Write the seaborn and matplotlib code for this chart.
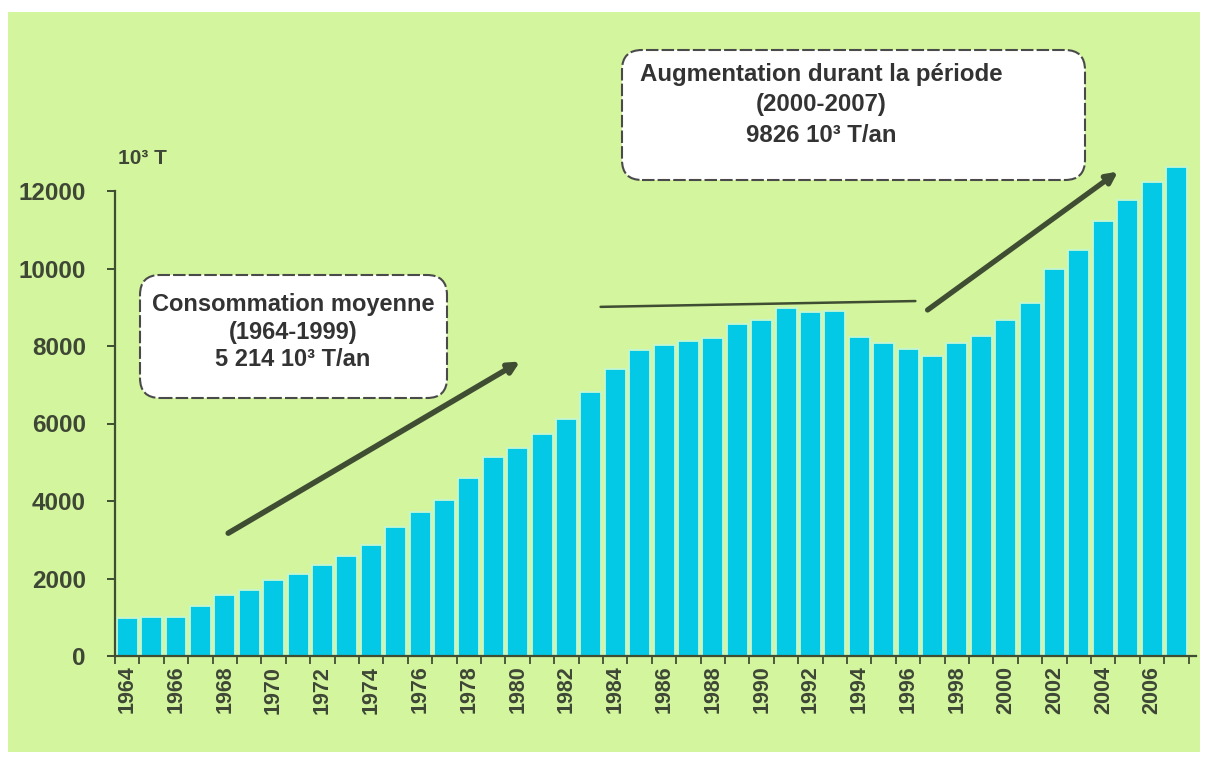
import matplotlib
matplotlib.use("Agg")
import matplotlib.pyplot as plt
from matplotlib.patches import FancyBboxPatch, Rectangle
import seaborn as sns
import pandas as pd

# Consommation annuelle (milliers de tonnes), 1964-2007
years = list(range(1964, 2008))
conso = [970, 1010, 1000, 1300, 1580, 1700, 1950, 2110, 2340, 2570,
         2860, 3330, 3720, 4020, 4590, 5130, 5370, 5720, 6110, 6820,
         7410, 7890, 8030, 8120, 8200, 8560, 8670, 8970, 8880, 8900,
         8240, 8080, 7910, 7740, 8070, 8270, 8660, 9120, 9980, 10490,
         11220, 11770, 12240, 12620]
y_ticks = [0, 2000, 4000, 6000, 8000, 10000, 12000]
x_labels = [str(y) for y in years[0:43:2]]
unit_label = "10³ T"
box_left_text = "Consommation moyenne\n(1964-1999)\n5 214 10³ T/an"
box_right_text = "Augmentation durant la période\n(2000-2007)\n9826 10³ T/an"

BG = "#d3f59d"
BAR = "#03c8e6"
GAP = "#c4f7d2"
INK = "#3e4636"
LINE = "#3f4d33"

sns.set_theme(style="ticks")
plt.rcParams["font.family"] = ["Liberation Sans", "DejaVu Sans"]

W, H = 1206, 760
fig = plt.figure(figsize=(W / 100, H / 100), dpi=100, facecolor="white")
fig.patches.append(Rectangle((8 / W, 8 / H), 1192 / W, 740 / H,
                             transform=fig.transFigure, facecolor=BG,
                             edgecolor="none", zorder=-10))

ax = fig.add_axes([115 / W, 104 / H, (1196 - 115) / W, 465 / H])
ax.patch.set_visible(False)

df = pd.DataFrame({"annee": [str(y) for y in years], "conso": conso})
sns.barplot(data=df, x="annee", y="conso", color=BAR, saturation=1,
            width=0.86, edgecolor=GAP, linewidth=1.3, ax=ax)
for p in ax.patches:
    p.set_clip_on(False)

ax.set_xlim(-0.45, 43.8)
ax.set_ylim(0, 12000)
ax.set_xlabel("")
ax.set_ylabel("")

for side in ("top", "right"):
    ax.spines[side].set_visible(False)
for side in ("left", "bottom"):
    ax.spines[side].set_color(LINE)
    ax.spines[side].set_linewidth(1.6)

ax.set_yticks(y_ticks)
ax.set_yticklabels([str(v) for v in y_ticks], fontsize=17.5,
                   fontweight="bold", color=INK)
ax.tick_params(axis="y", length=6, width=1.4, color=LINE, pad=15)

ax.set_xticks(range(0, 43, 2))
ax.set_xticklabels(x_labels, rotation=90, fontsize=15.5,
                   fontweight="bold", color=INK)
ax.tick_params(axis="x", which="major", length=0, pad=7)
ax.set_xticks([i - 0.5 for i in range(len(years) + 1)], minor=True)
ax.tick_params(axis="x", which="minor", length=6, width=1.3, color=LINE)

fig.text(118 / W, 1 - 158 / H, unit_label, fontsize=15, fontweight="bold",
         color=INK, va="center", ha="left")

# Flèches de tendance et palier
ax.annotate("", xy=(16.1, 7600), xytext=(4.14, 3170),
            arrowprops=dict(arrowstyle="-|>", color=LINE, lw=4,
                            mutation_scale=16, shrinkA=0, shrinkB=0),
            annotation_clip=False)
ax.plot([19.4, 32.3], [9010, 9160], color=LINE, lw=1.8, clip_on=False)
ax.annotate("", xy=(40.6, 12500), xytext=(32.8, 8930),
            arrowprops=dict(arrowstyle="-|>", color=LINE, lw=3.8,
                            mutation_scale=16, shrinkA=0, shrinkB=0),
            annotation_clip=False)

# Encadrés
def encadre(x0, y0, x1, y1, text, cx, cy, size, spacing):
    box = FancyBboxPatch((x0 / 100, (H - y1) / 100), (x1 - x0) / 100,
                         (y1 - y0) / 100,
                         boxstyle="round,pad=0,rounding_size=0.2",
                         transform=fig.dpi_scale_trans, facecolor="white",
                         edgecolor="#4a4a4a", linewidth=1.5,
                         linestyle=(0, (6, 1.5)), zorder=5)
    fig.patches.append(box)
    fig.text(cx / W, 1 - cy / H, text, ha="center", va="center",
             multialignment="center", fontsize=size, fontweight="bold",
             color="#333333", linespacing=spacing, zorder=6)

encadre(140, 275, 447, 398, box_left_text, 293, 332, 17, 1.25)
encadre(622, 50, 1085, 180, box_right_text, 821, 105, 17.3, 1.42)

fig.savefig("out.png", dpi=100, facecolor="white")
